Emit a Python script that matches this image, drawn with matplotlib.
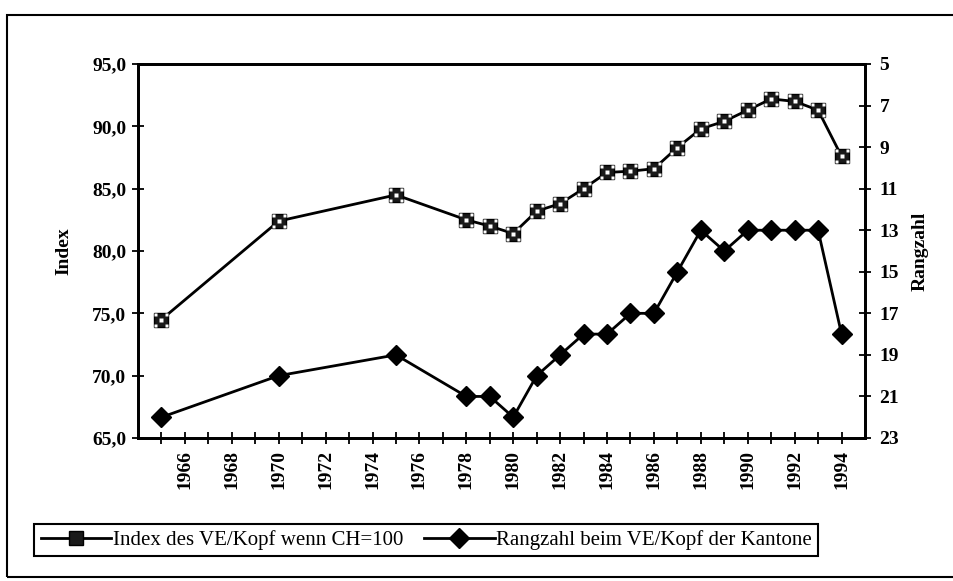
import matplotlib
matplotlib.use("Agg")
import matplotlib.pyplot as plt
from matplotlib.path import Path
from matplotlib.patches import Rectangle
import numpy as np

years = [1965, 1970, 1975, 1978, 1979, 1980, 1981, 1982, 1983, 1984, 1985,
         1986, 1987, 1988, 1989, 1990, 1991, 1992, 1993, 1994]
index_values = [74.5, 82.4, 84.5, 82.5, 82.0, 81.4, 83.2, 83.8, 85.0, 86.3, 86.4,
                86.6, 88.3, 89.8, 90.4, 91.3, 92.2, 92.0, 91.3, 87.6]
rang_values = [22, 20, 19, 21, 21, 22, 20, 19, 18, 18, 17,
               17, 15, 13, 14, 13, 13, 13, 13, 18]
left_ticks = [65, 70, 75, 80, 85, 90, 95]
right_ticks = [5, 7, 9, 11, 13, 15, 17, 19, 21, 23]
xlabel_years = list(range(1966, 1995, 2))

label_index = "Index des VE/Kopf wenn CH=100"
label_rang = "Rangzahl beim VE/Kopf der Kantone"

plt.rcParams['font.family'] = ['Liberation Serif', 'DejaVu Serif']

W, H = 954, 581
fig = plt.figure(figsize=(W / 100, H / 100), dpi=100)
ax = fig.add_axes([138 / W, 1 - 438 / H, (865 - 138) / W, (438 - 64) / H])
ax2 = ax.twinx()

# dotted square marker (white dots inside black square)
dots = []
codes = []
for (cx, cy) in [(-0.3, 0.3), (0.3, 0.3), (0.0, 0.0), (-0.3, -0.3), (0.3, -0.3)]:
    s = 0.09
    verts = [(cx - s, cy - s), (cx + s, cy - s), (cx + s, cy + s), (cx - s, cy + s), (cx - s, cy - s)]
    dots += verts
    codes += [Path.MOVETO, Path.LINETO, Path.LINETO, Path.LINETO, Path.CLOSEPOLY]
dot_marker = Path(dots, codes)

lw = 2.0
l1, = ax.plot(years, index_values, color='black', lw=lw, marker='s', ms=10,
              mfc='#1a1a1a', mec='black', label=label_index, zorder=3)
ax.plot(years, index_values, ls='none', marker=dot_marker, ms=10, mfc='white',
        mec='none', zorder=4)
l2, = ax2.plot(years, rang_values, color='black', lw=lw, marker='D', ms=10,
               mfc='black', mec='black', label=label_rang, zorder=3)

ax.set_xlim(1964, 1995)
ax.set_ylim(65, 95)
ax2.set_ylim(23, 5)

ax.set_yticks(left_ticks)
ax.set_yticklabels([f"{v:.1f}".replace('.', ',') for v in left_ticks])
ax2.set_yticks(right_ticks)
ax2.set_yticklabels([str(v) for v in right_ticks])

ax.set_xticks(xlabel_years)
ax.set_xticklabels([str(y) for y in xlabel_years], rotation=90)
ax.set_xticks(list(range(1965, 1995)), minor=True)

fs = 14
for a in (ax, ax2):
    for sp in a.spines.values():
        sp.set_linewidth(2.0)
    a.tick_params(axis='both', which='both', direction='inout', length=9, width=1.3,
                  labelsize=fs)
for t in ax.get_yticklabels() + ax2.get_yticklabels() + ax.get_xticklabels():
    t.set_fontweight('bold')
ax.tick_params(axis='y', pad=4)
ax2.tick_params(axis='y', pad=6)
ax.tick_params(axis='x', pad=4)

ax.set_ylabel("Index", fontsize=fs, fontweight='bold', labelpad=14)
ax2.set_ylabel("Rangzahl", fontsize=fs, fontweight='bold', labelpad=9)

leg = fig.legend(handles=[l1, l2], labels=[label_index, label_rang], loc='center',
                 bbox_to_anchor=(426 / W, 1 - 540 / H), ncol=2, frameon=True,
                 fancybox=False, edgecolor='black', framealpha=1, fontsize=15,
                 handlelength=3.4, handletextpad=0.05, columnspacing=1.0,
                 borderpad=0.3, borderaxespad=0)
leg.get_frame().set_linewidth(1.5)

# outer chart border
fig.patches.append(Rectangle((7 / W, 1 - 577 / H), 1.2, (577 - 15) / H,
                             transform=fig.transFigure, fill=False, lw=1.5,
                             edgecolor='black', clip_on=False))

fig.savefig("out.png", dpi=100)
